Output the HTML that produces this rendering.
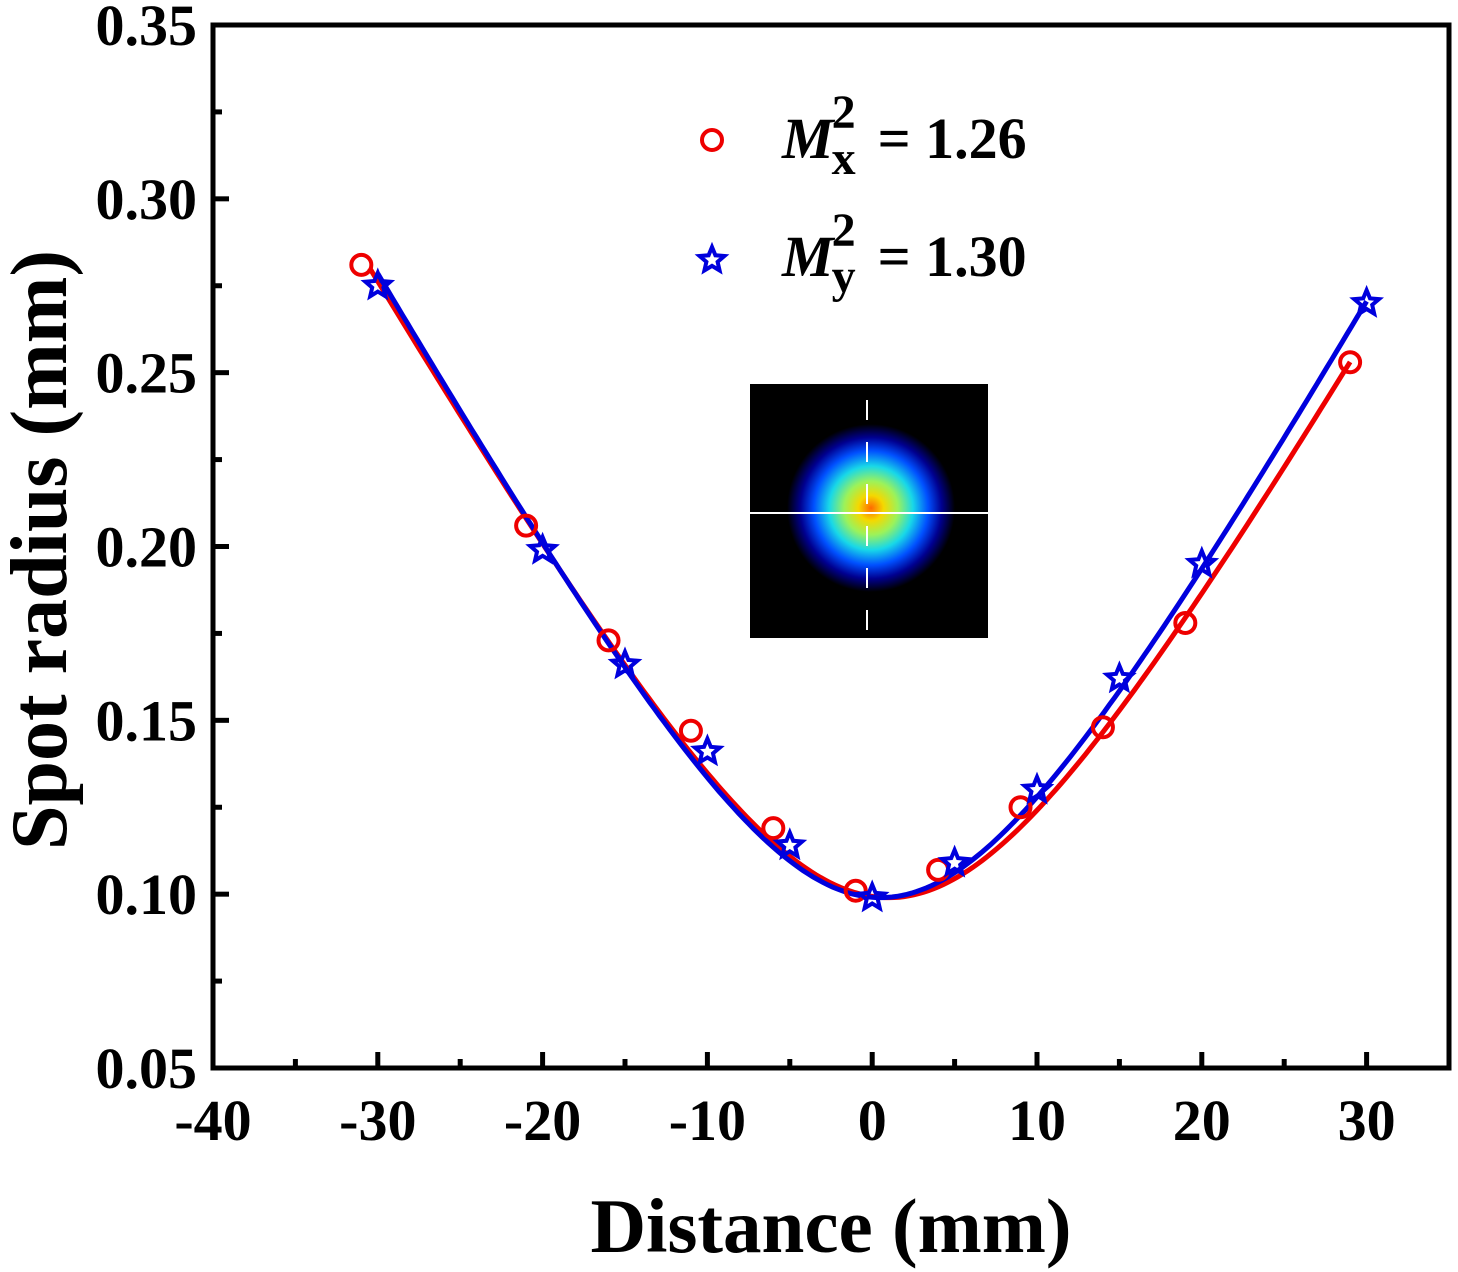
<!DOCTYPE html>
<html><head><meta charset="utf-8"><style>
body{margin:0;background:#fff}
svg{display:block;font-family:"Liberation Serif",serif;font-weight:bold}
</style></head><body>
<svg id="chart" width="1458" height="1272" viewBox="0 0 1458 1272" xmlns="http://www.w3.org/2000/svg">
<defs>
<radialGradient id="spot" cx="0.5" cy="0.5" r="0.5">
<stop offset="0" stop-color="#ff6a00"/>
<stop offset="0.15" stop-color="#f5d800"/>
<stop offset="0.32" stop-color="#9cf25a"/>
<stop offset="0.5" stop-color="#18d8e8"/>
<stop offset="0.68" stop-color="#0050ff"/>
<stop offset="0.84" stop-color="#000090"/>
<stop offset="1" stop-color="#000000"/>
</radialGradient>
</defs>
<g id="inset">
<rect x="750" y="384" width="238" height="254" fill="#000"/>
<circle cx="871" cy="508" r="84" fill="url(#spot)"/>
<line x1="750" y1="513" x2="988" y2="513" stroke="#fff" stroke-width="2"/>
<line x1="867" y1="400" x2="867" y2="630" stroke="#fff" stroke-width="2" stroke-dasharray="20,22"/>
</g>
<g id="axes"></g>
<g id="curves"></g>
<g id="marks"></g>
<g>
<circle cx="712" cy="140" r="10" fill="none" stroke="#e00" stroke-width="4"/>
<text x="782" y="158" font-size="58"><tspan font-style="italic">M</tspan><tspan font-size="48" dx="-2" dy="-30">2</tspan><tspan font-size="48" dx="-24" dy="46">x</tspan><tspan dy="-16" dx="22">= 1.26</tspan></text>
<path d="" id="legstar" fill="none" stroke="#00d" stroke-width="4"/>
<text x="782" y="276" font-size="58"><tspan font-style="italic">M</tspan><tspan font-size="48" dx="-2" dy="-30">2</tspan><tspan font-size="48" dx="-24" dy="46">y</tspan><tspan dy="-16" dx="22">= 1.30</tspan></text>
</g>
<text x="831" y="1252" font-size="77" text-anchor="middle">Distance (mm)</text>
<text transform="translate(66,550) rotate(-90)" font-size="80" text-anchor="middle">Spot radius (mm)</text>
</svg>
<script>
const xTicks=[-40,-30,-20,-10,0,10,20,30];
const yTicks=[0.05,0.10,0.15,0.20,0.25,0.30,0.35];
const redX=[-31,-21,-16,-11,-6,-1,4,9,14,19,29];
const redY=[0.281,0.206,0.173,0.147,0.119,0.101,0.107,0.125,0.148,0.178,0.253];
const blueX=[-30,-20,-15,-10,-5,0,5,10,15,20,30];
const blueY=[0.275,0.199,0.166,0.141,0.114,0.099,0.109,0.130,0.162,0.195,0.270];
const redFit=[0.099,1.0,11.9];   // w0, z0, zR
const blueFit=[0.099,0.5,11.6];
const redRange=[-30.5,29];
const blueRange=[-30,30];
const L=213,R=1449,T=25,B=1068;
const sx=v=>L+(v+40)/75*(R-L);
const sy=v=>B-(v-0.05)/0.30*(B-T);
const NS="http://www.w3.org/2000/svg";
function mk(tag,attrs,parent){const e=document.createElementNS(NS,tag);for(const k in attrs)e.setAttribute(k,attrs[k]);parent.appendChild(e);return e;}
const ax=document.getElementById('axes');
let fr=mk('rect',{x:L,y:T,width:R-L,height:B-T,fill:'none',stroke:'#000','stroke-width':5},ax);


xTicks.forEach((t,i)=>{
  const x=sx(t);
  let l=mk('line',{x1:x,y1:B,x2:x,y2:B-16,stroke:'#000','stroke-width':5},ax);
  
  
  const m=sx(t+5);if(t+5<35){let ml=mk('line',{x1:m,y1:B,x2:m,y2:B-9,stroke:'#000','stroke-width':5},ax);}
  let tx=mk('text',{x:x,y:B+72,'font-size':58,'text-anchor':'middle'},ax);
  tx.textContent=t;
  
  
});
yTicks.forEach(t=>{
  const y=sy(t);
  let l=mk('line',{x1:L,y1:y,x2:L+16,y2:y,stroke:'#000','stroke-width':5},ax);
  
  
  if(t<0.34){const m=sy(t+0.025);let ml=mk('line',{x1:L,y1:m,x2:L+9,y2:m,stroke:'#000','stroke-width':5},ax);}
  let tx=mk('text',{x:L-16,y:y+20,'font-size':58,'text-anchor':'end'},ax);
  tx.textContent=t.toFixed(2);
  
  
});
const cv=document.getElementById('curves');
function fit(p,rg,color,name){
  let d='';
  for(let i=0;i<=200;i++){const z=rg[0]+(rg[1]-rg[0])*i/200;const w=p[0]*Math.sqrt(1+((z-p[1])/p[2])**2);d+=(i?'L':'M')+sx(z).toFixed(1)+','+sy(w).toFixed(1);}
  let e=mk('path',{d:d,fill:'none',stroke:color,'stroke-width':5},cv);
  
  
}
fit(redFit,redRange,'#e00','fit-curve-x');
fit(blueFit,blueRange,'#00d','fit-curve-y');
function star(cx,cy,r){let d='';for(let i=0;i<10;i++){const a=-Math.PI/2+i*Math.PI/5;const rr=i%2?r*0.45:r;d+=(i?'L':'M')+(cx+rr*Math.cos(a)).toFixed(1)+','+(cy+rr*Math.sin(a)).toFixed(1);}return d+'Z';}
document.getElementById('legstar').setAttribute('d',star(712,260,13));
const mg=document.getElementById('marks');
redX.forEach((x,i)=>{
  let c=mk('circle',{cx:sx(x),cy:sy(redY[i]),r:10,fill:'none',stroke:'#e00','stroke-width':4},mg);
  
  
});
blueX.forEach((x,i)=>{
  let p=mk('path',{d:star(sx(x),sy(blueY[i]),13),fill:'none',stroke:'#00d','stroke-width':4},mg);
  
  
});
</script>
</body></html>
